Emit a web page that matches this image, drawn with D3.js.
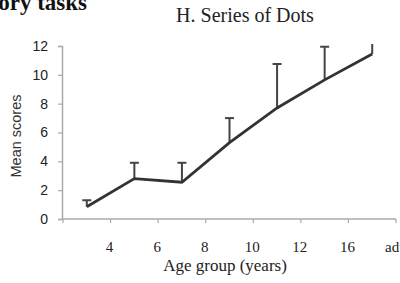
<!DOCTYPE html>
<html><head><meta charset="utf-8">
<script src="https://cdn.jsdelivr.net/npm/d3@7"></script>
<style>body{margin:0;background:#fff}svg{display:block}</style>
</head><body>
<script>
const categories = ["3","5","7","9","11","14","17"];
const tickLabels = ["4","6","8","10","12","16","adults"];
const meanScores = [0.85, 2.8, 2.55, 5.3, 7.7, 9.65, 11.45];
const upperErr = [1.3, 3.9, 3.9, 7.0, 10.75, 11.95, 12.6];
const yTicks = [0,2,4,6,8,10,12];

const W = 400, H = 283;
const svg = d3.select("body").append("svg").attr("width", W).attr("height", H);

const x = d3.scaleBand().domain(categories).range([63, 396]).padding(0);
const y = d3.scaleLinear().domain([0, 12]).range([219, 46]);

// top-left partial heading
svg.append("text").attr("x", 87).attr("y", 10).attr("text-anchor", "end")
  .attr("font-family", "Liberation Serif").attr("font-weight", "bold").attr("font-size", 23)
  .attr("fill", "#111").text("Performance on memory tasks");

// title
svg.append("text").attr("x", 245).attr("y", 22).attr("text-anchor", "middle")
  .attr("font-family", "Liberation Serif").attr("font-size", 20).attr("fill", "#222")
  .text("H. Series of Dots");

// y axis
const yAxis = svg.append("g").attr("transform", "translate(62,0)")
  .call(d3.axisLeft(y).tickValues(yTicks).tickSize(4).tickPadding(10));
yAxis.select(".domain").attr("stroke", "#aaa").attr("stroke-width", 1.5);
yAxis.selectAll(".tick line").attr("stroke", "#aaa").attr("stroke-width", 1.2);
yAxis.selectAll(".tick text").attr("font-family", "Liberation Sans").attr("font-size", 14).attr("fill", "#222");

// x axis
const xAxisG = svg.append("g").attr("transform", "translate(0,219)");
xAxisG.append("line").attr("x1", 62).attr("x2", 396).attr("stroke", "#aaa").attr("stroke-width", 1.5);
const bounds = [x(categories[0])].concat(categories.map(c => x(c) + x.bandwidth()));
xAxisG.selectAll("line.tk").data(bounds).join("line").attr("class", "tk")
  .attr("x1", d => d).attr("x2", d => d).attr("y1", 0).attr("y2", 4)
  .attr("stroke", "#aaa").attr("stroke-width", 1.2);
xAxisG.selectAll("text.tl").data(tickLabels).join("text").attr("class", "tl")
  .attr("x", (d, i) => i === tickLabels.length - 1 ? 385 : x(categories[i]) + x.bandwidth() - 1)
  .attr("y", 33).attr("text-anchor", (d, i) => i === tickLabels.length - 1 ? "start" : "middle")
  .attr("font-family", "Liberation Serif").attr("font-size", 15).attr("fill", "#222")
  .text(d => d);

svg.append("text").attr("x", 225).attr("y", 271).attr("text-anchor", "middle")
  .attr("font-family", "Liberation Serif").attr("font-size", 17).attr("fill", "#222")
  .text("Age group (years)");

svg.append("text").attr("transform", "translate(21,136) rotate(-90)").attr("text-anchor", "middle")
  .attr("font-family", "Liberation Sans").attr("font-size", 14.5).attr("fill", "#333")
  .text("Mean scores");

// clip
svg.append("clipPath").attr("id", "clip").append("rect")
  .attr("x", 60).attr("y", y(12) - 2).attr("width", 340).attr("height", 200);

const plot = svg.append("g").attr("clip-path", "url(#clip)");
const cx = i => x(categories[i]) + x.bandwidth() / 2;

// error bars
const eb = plot.selectAll("g.eb").data(meanScores).join("g").attr("class", "eb");
eb.append("line").attr("x1", (d, i) => cx(i)).attr("x2", (d, i) => cx(i))
  .attr("y1", d => y(d)).attr("y2", (d, i) => y(upperErr[i]))
  .attr("stroke", "#444").attr("stroke-width", 2);
eb.append("line").attr("x1", (d, i) => cx(i) - 4.5).attr("x2", (d, i) => cx(i) + 4.5)
  .attr("y1", (d, i) => y(upperErr[i])).attr("y2", (d, i) => y(upperErr[i]))
  .attr("stroke", "#444").attr("stroke-width", 2);

// line
plot.append("path").datum(meanScores)
  .attr("d", d3.line().x((d, i) => cx(i)).y(d => y(d)))
  .attr("fill", "none").attr("stroke", "#333").attr("stroke-width", 2.8)
  .attr("stroke-linejoin", "miter");
</script>
</body></html>
